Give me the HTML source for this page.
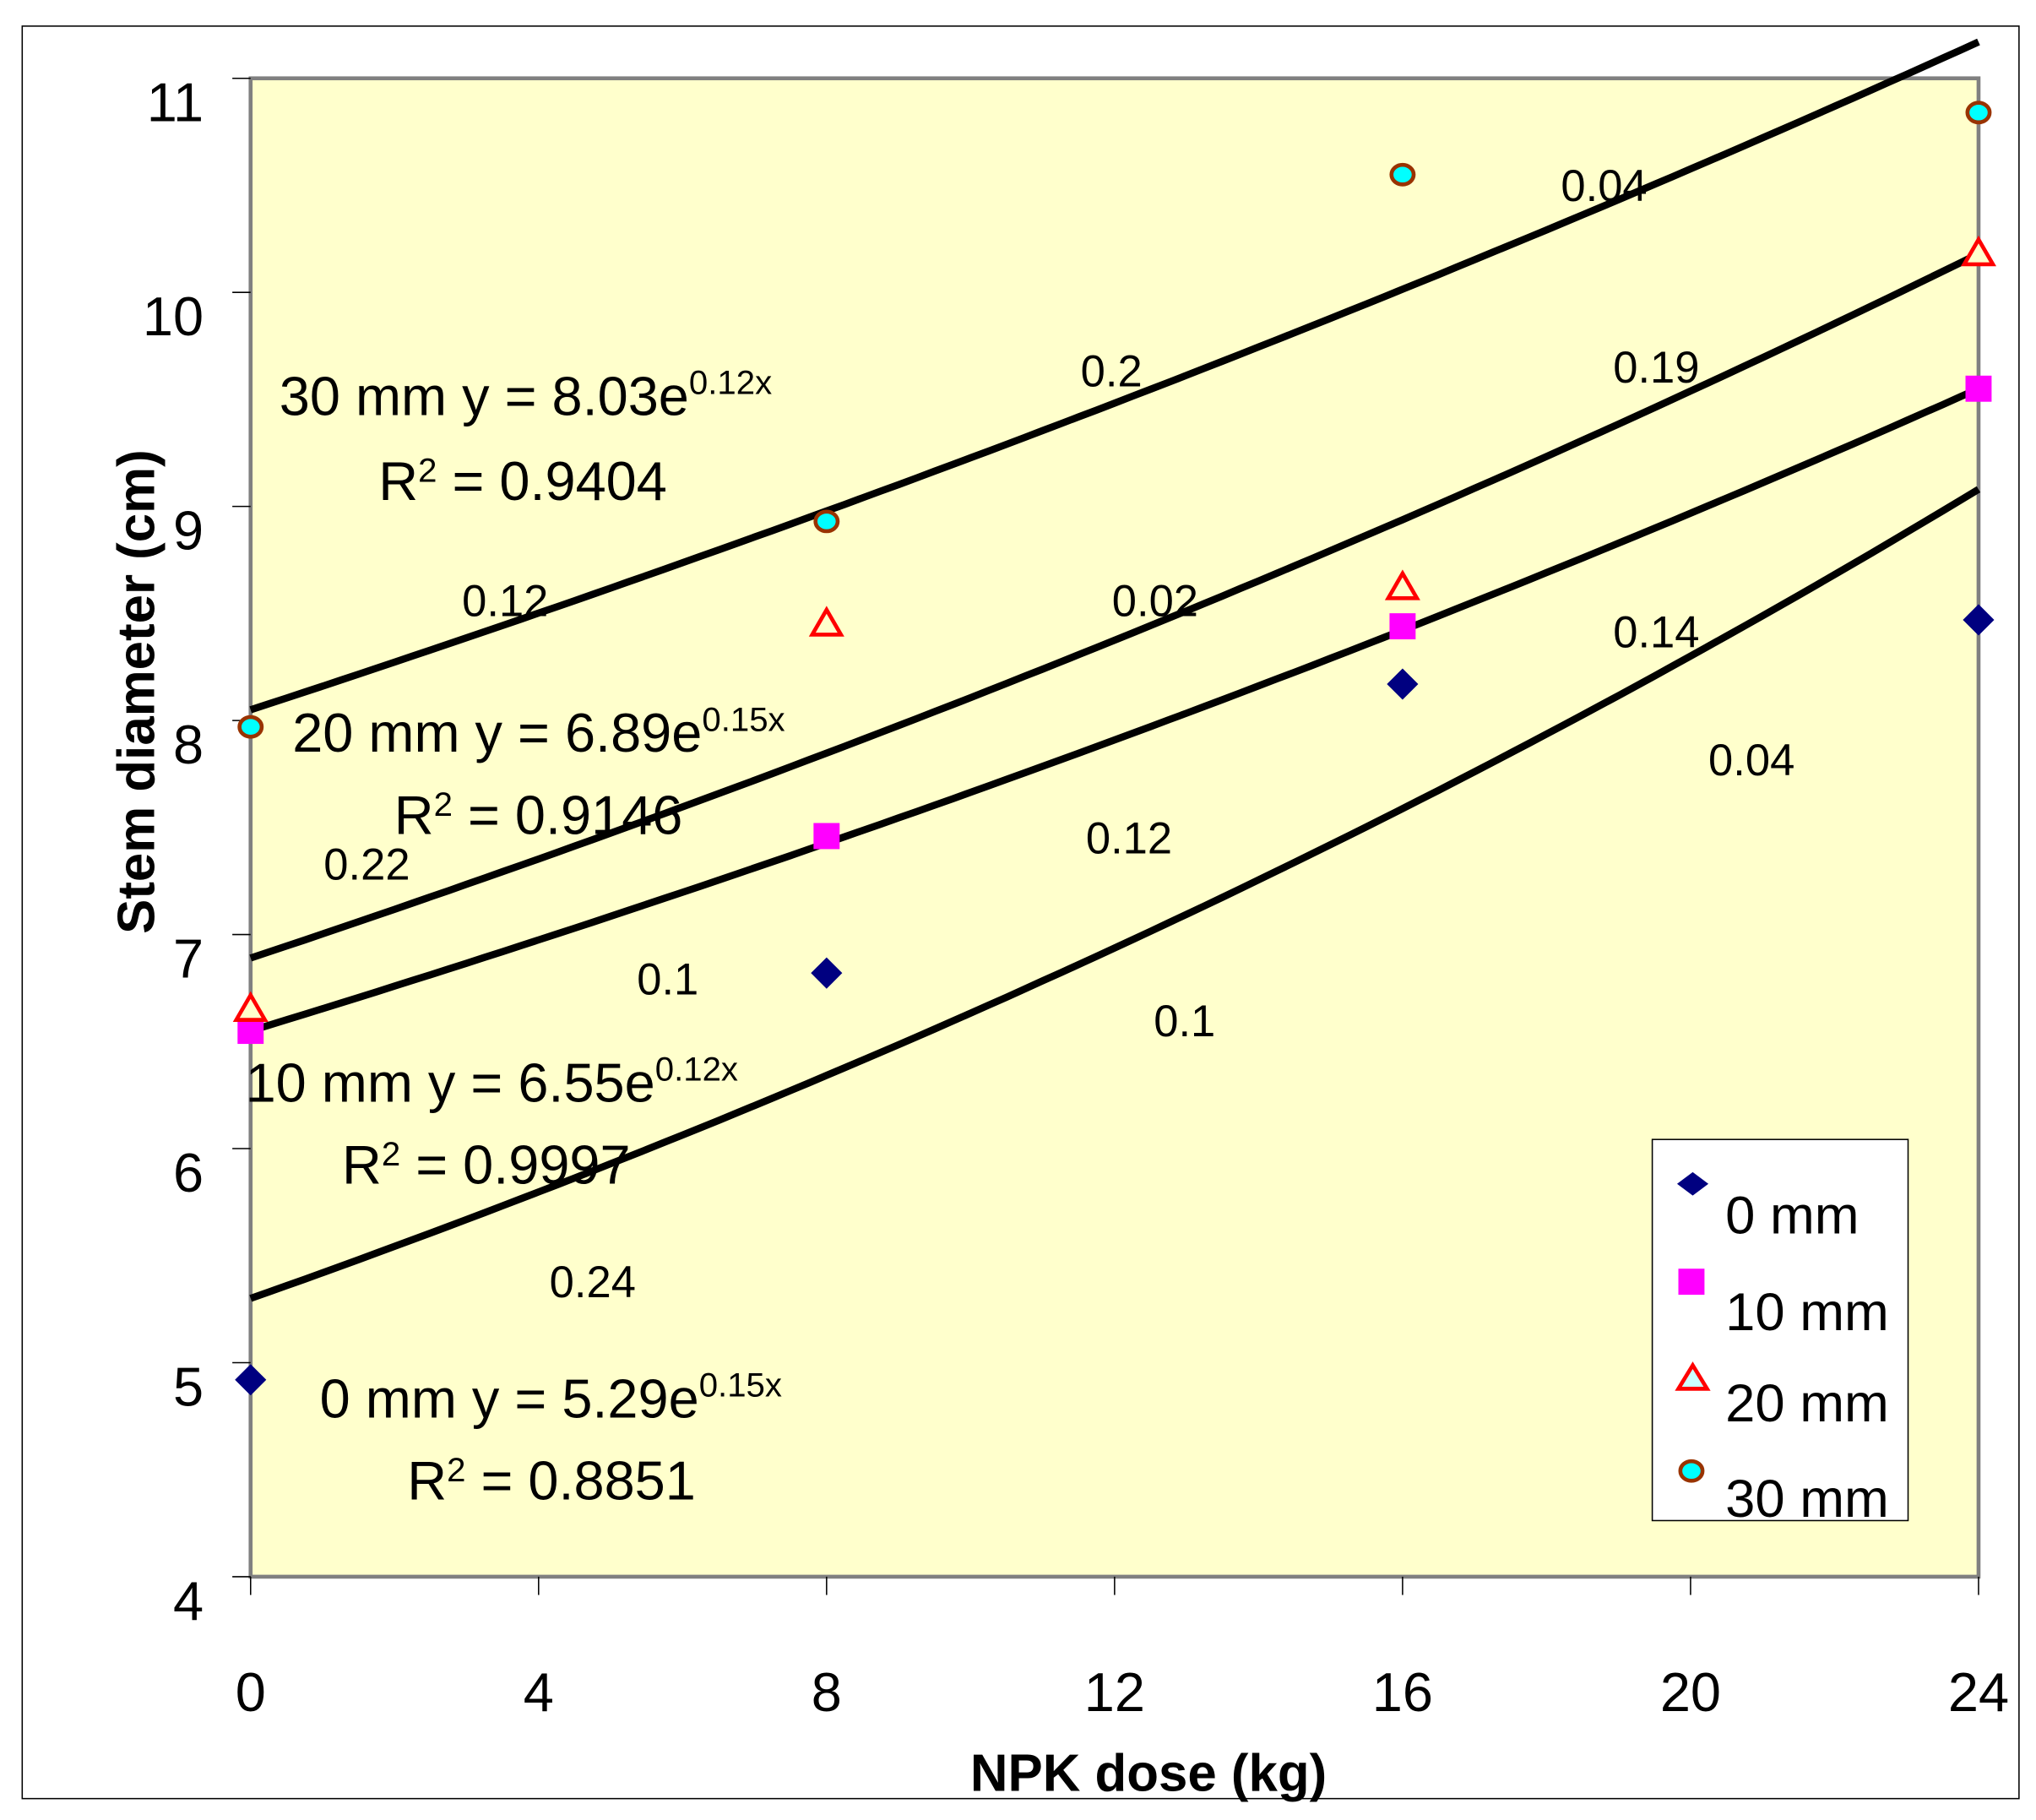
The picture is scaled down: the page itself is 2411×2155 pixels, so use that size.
<!DOCTYPE html>
<html><head><meta charset="utf-8"><style>
html,body{margin:0;padding:0;background:#fff}
svg{display:block}
text{font-family:"Liberation Sans",sans-serif;fill:#000}
</style></head><body>
<svg id="chart" width="2411" height="2155" viewBox="0 0 1560 1394.4" xmlns="http://www.w3.org/2000/svg">
<rect x="17" y="20" width="1530" height="1358" fill="#fff" stroke="#000" stroke-width="1"/>
<rect x="192" y="60" width="1324" height="1148" fill="#ffffcc" stroke="#808080" stroke-width="3"/>
<g id="axes"></g>
<g id="trends"></g>
<g id="labels">
<text x="214" y="318" font-size="42">30 mm y = 8.03e<tspan font-size="26" dy="-16">0.12x</tspan></text>
<text x="290" y="383" font-size="42">R<tspan font-size="26" dy="-14">2</tspan><tspan dy="14"> = 0.9404</tspan></text>
<text x="224" y="576" font-size="42">20 mm y = 6.89e<tspan font-size="26" dy="-16">0.15x</tspan></text>
<text x="302" y="639" font-size="42">R<tspan font-size="26" dy="-14">2</tspan><tspan dy="14"> = 0.9146</tspan></text>
<text x="188" y="844" font-size="42">10 mm y = 6.55e<tspan font-size="26" dy="-16">0.12x</tspan></text>
<text x="262" y="907" font-size="42">R<tspan font-size="26" dy="-14">2</tspan><tspan dy="14"> = 0.9997</tspan></text>
<text x="245" y="1086" font-size="42">0 mm y = 5.29e<tspan font-size="26" dy="-16">0.15x</tspan></text>
<text x="312" y="1149" font-size="42">R<tspan font-size="26" dy="-14">2</tspan><tspan dy="14"> = 0.8851</tspan></text>
<g font-size="34">
<text x="1196" y="154">0.04</text>
<text x="828" y="296">0.2</text>
<text x="1236" y="293">0.19</text>
<text x="354" y="472">0.12</text>
<text x="852" y="472">0.02</text>
<text x="1236" y="496">0.14</text>
<text x="248" y="674">0.22</text>
<text x="832" y="654">0.12</text>
<text x="1309" y="594">0.04</text>
<text x="488" y="762">0.1</text>
<text x="884" y="794">0.1</text>
<text x="421" y="994">0.24</text>
</g>
</g>
<g id="points"></g>
<text x="880" y="1372" font-size="40" font-weight="bold" text-anchor="middle">NPK dose (kg)</text>
<text transform="translate(118,530) rotate(-90)" font-size="40" font-weight="bold" text-anchor="middle">Stem diameter (cm)</text>
<g>
<rect x="1266" y="873" width="196" height="292" fill="#fff" stroke="#000" stroke-width="1"/>
<path d="M1297,898 L1309,907 L1297,916 L1285,907Z" fill="#000080"/>
<text x="1322" y="945" font-size="41">0 mm</text>
<rect x="1286" y="972" width="20" height="20" fill="#ff00ff"/>
<text x="1322" y="1019" font-size="41">10 mm</text>
<path d="M1297,1046 L1308,1064 L1286,1064Z" fill="#ccffff" stroke="#ff0000" stroke-width="3"/>
<text x="1322" y="1089" font-size="41">20 mm</text>
<ellipse cx="1296" cy="1127" rx="8.5" ry="7.5" fill="#00ffff" stroke="#993300" stroke-width="3"/>
<text x="1322" y="1162" font-size="41">30 mm</text>
</g>
</svg>
<script>
const doses = [0, 8, 16, 24];
const s0mm = [4.92, 6.82, 8.17, 8.47];
const s10mm = [6.55, 7.46, 8.44, 9.55];
const s20mm = [6.65, 8.45, 8.62, 10.18];
const s30mm = [7.97, 8.93, 10.55, 10.84];
const trendStart = [5.30, 6.55, 6.89, 8.05];
const trendEnd = [9.08, 9.55, 10.18, 11.17];
const xTicks = [0, 4, 8, 12, 16, 20, 24];
const yTicks = [4, 5, 6, 7, 8, 9, 10, 11];

const NS = 'http://www.w3.org/2000/svg';
const X0 = 192, X1 = 1516, Y0 = 1208, Y1 = 60;
function xs(v) { return X0 + (v - 0) / 24 * (X1 - X0); }
function ys(v) { return Y0 - (v - 4) / 7 * (Y0 - Y1); }
function mk(tag, attrs, parent) {
  const e = document.createElementNS(NS, tag);
  for (const k in attrs) e.setAttribute(k, attrs[k]);
  parent.appendChild(e);
  return e;
}
const axes = document.getElementById('axes');
yTicks.forEach(t => {
  const l = mk('line', {x1: 178, x2: 192, y1: ys(t), y2: ys(t), stroke: '#000', 'stroke-width': 1}, axes);
  
  
  const tx = mk('text', {x: 156, y: ys(t) + 33, 'font-size': 42, 'text-anchor': 'end'}, axes);
  tx.textContent = t;
  
  
});
xTicks.forEach(t => {
  const l = mk('line', {x1: xs(t), x2: xs(t), y1: 1208, y2: 1222, stroke: '#000', 'stroke-width': 1}, axes);
  
  
  const tx = mk('text', {x: xs(t), y: 1311, 'font-size': 42, 'text-anchor': 'middle'}, axes);
  tx.textContent = t;
  
  
});
const trends = document.getElementById('trends');
const tnames = ['trend-0mm', 'trend-10mm', 'trend-20mm', 'trend-30mm'];
trendStart.forEach((a, i) => {
  const b = trendEnd[i];
  const k = Math.log(b / a) / 24;
  let d = '';
  for (let x = 0; x <= 24.001; x += 0.25) {
    d += (x === 0 ? 'M' : 'L') + xs(x).toFixed(1) + ',' + ys(a * Math.exp(k * x)).toFixed(1);
  }
  const p = mk('path', {d: d, fill: 'none', stroke: '#000', 'stroke-width': 5.5}, trends);
  
  
});
const pts = document.getElementById('points');
doses.forEach((x, i) => {
  const cx = xs(x);
  let y = ys(s0mm[i]);
  const d0 = mk('path', {d: `M${cx},${y-12}L${cx+12},${y}L${cx},${y+12}L${cx-12},${y}Z`, fill: '#000080'}, pts);
  
  
  y = ys(s10mm[i]);
  const d1 = mk('rect', {x: cx - 10, y: y - 10, width: 20, height: 20, fill: '#ff00ff'}, pts);
  
  
  y = ys(s20mm[i]);
  const d2 = mk('path', {d: `M${cx},${y-11}L${cx+11},${y+8}L${cx-11},${y+8}Z`, fill: '#ffffcc', stroke: '#ff0000', 'stroke-width': 3}, pts);
  
  
  y = ys(s30mm[i]);
  const d3 = mk('ellipse', {cx: cx, cy: y, rx: 8.5, ry: 7.5, fill: '#00ffff', stroke: '#993300', 'stroke-width': 3}, pts);
  
  
});
</script>
</body></html>
